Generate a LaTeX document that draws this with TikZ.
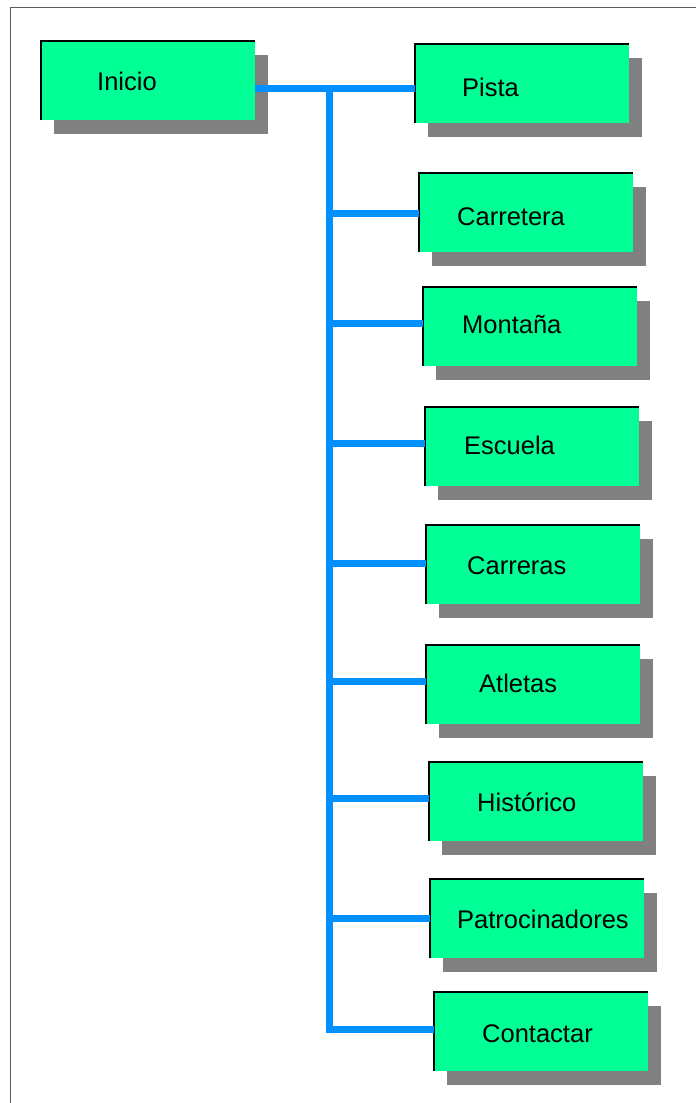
\documentclass[tikz,border=0pt]{standalone}
\usepackage{fontspec}
\setmainfont{Liberation Sans}
\usetikzlibrary{shadows}
\definecolor{boxgreen}{RGB}{0,255,148}
\definecolor{linkblue}{RGB}{0,144,255}
\definecolor{shadowgray}{RGB}{128,128,128}
\definecolor{framegray}{RGB}{90,90,90}
\tikzset{
  menubox/.style={anchor=north west, minimum width=214pt, minimum height=79pt,
    inner sep=0pt, fill=boxgreen,
    drop shadow={shadow xshift=13pt, shadow yshift=-14pt, fill=shadowgray, opacity=1}},
  boxlabel/.style={anchor=base west, inner sep=0pt, font=\fontsize{25.5}{30}\selectfont},
  link/.style={draw=linkblue, line width=7pt, line join=miter},
  edge/.style={draw=black, line width=1.4pt}
}
\begin{document}
\begin{tikzpicture}[x=1pt,y=-1pt]
\useasboundingbox (0,0) rectangle (696,1103);
\fill[white] (0,0) rectangle (696,1103);
% frame
\draw[framegray, line width=1.6pt] (10.5,1103) -- (10.5,7.5) -- (696,7.5);

% boxes
\node[menubox] (inicio) at (41,41) {};
\node[menubox] (pista) at (415,44) {};
\node[menubox] (carretera) at (419,173) {};
\node[menubox] (montana) at (423,287) {};
\node[menubox] (escuela) at (425,407) {};
\node[menubox] (carreras) at (426,525) {};
\node[menubox] (atletas) at (426,645) {};
\node[menubox] (historico) at (429,762) {};
\node[menubox] (patro) at (430,879) {};
\node[menubox] (contactar) at (434,992) {};

\foreach \b in {inicio,pista,carretera,montana,escuela,carreras,atletas,historico,patro,contactar}{
  \draw[edge] (\b.south west) -- (\b.north west) -- (\b.north east);
}

% labels
\node[boxlabel] (tinicio) at (97,90) {Inicio};
\node[boxlabel] (tpista) at (462,96) {Pista};
\node[boxlabel] (tcarretera) at (457,225) {Carretera};
\node[boxlabel] (tmontana) at (462,333) {Montaña};
\node[boxlabel] (tescuela) at (464,454) {Escuela};
\node[boxlabel] (tcarreras) at (467,574) {Carreras};
\node[boxlabel] (tatletas) at (479,692) {Atletas};
\node[boxlabel] (thistorico) at (477,811) {Histórico};
\node[boxlabel] (tpatro) at (457,928) {Patrocinadores};
\node[boxlabel] (tcontactar) at (482,1042) {Contactar};

% connectors
\coordinate (trunktop) at (329,88);
\coordinate (trunkbot) at (329,1029);
\draw[link] (inicio.east |- trunktop) -- (pista.west |- trunktop);
\draw[link] (trunktop) -- (trunkbot) -- (contactar.west |- trunkbot);
\foreach \b/\y in {carretera/213,montana/323,escuela/443,carreras/563,atletas/681,historico/798,patro/918}{
  \draw[link] (329,\y) -- (\b.west |- {(0,\y)});
}
\end{tikzpicture}
\end{document}
